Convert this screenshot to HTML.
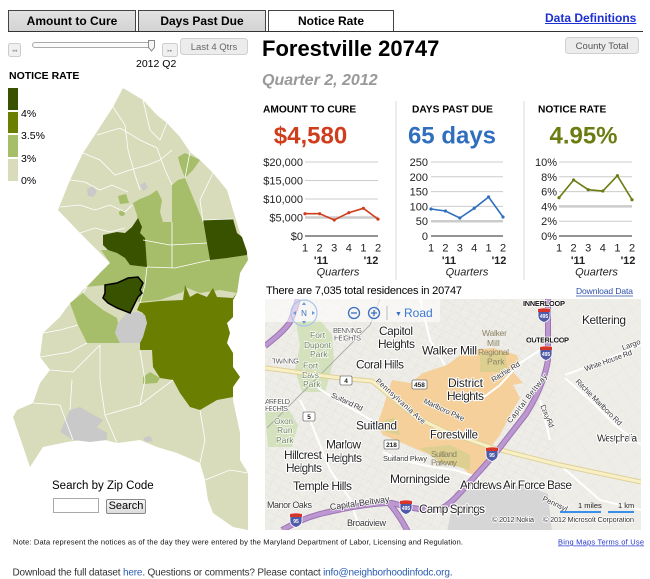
<!DOCTYPE html>
<html><head><meta charset="utf-8">
<style>
*{margin:0;padding:0;box-sizing:border-box}
body{width:650px;height:579px;position:relative;overflow:hidden;background:#fff;font-family:"Liberation Sans",Arial,sans-serif;color:#000}
.tab{position:absolute;top:10px;height:22px;border:1px solid #444;font-weight:bold;font-size:12px;text-align:center;line-height:20px;background:linear-gradient(#e2e2e2,#d3d3d3)}
svg{position:absolute;left:0;top:0}
svg text{font-family:"Liberation Sans",Arial,sans-serif}
.ml{fill:#222;stroke:#fff;stroke-width:2.2px;paint-order:stroke;stroke-linejoin:round;font-size:12px}
.ms{fill:#555;stroke:#fff;stroke-width:1.6px;paint-order:stroke;stroke-linejoin:round;font-size:7.5px}
.mp{fill:#6a7f5a;stroke:#fff;stroke-width:1.4px;paint-order:stroke;font-size:8.5px}
.mr{fill:#333;stroke:#fff;stroke-width:1.5px;paint-order:stroke;font-size:7.5px}
</style></head><body>
<div class="tab" style="left:8px;width:128px">Amount to Cure</div>
<div class="tab" style="left:138px;width:128px">Days Past Due</div>
<div class="tab" style="left:268px;width:126px;background:#fff">Notice Rate</div>
<div style="position:absolute;left:8px;top:31px;width:635px;height:1px;background:#333"></div>
<div style="position:absolute;left:545px;top:11px;font-size:12px;font-weight:bold;color:#1c2fd1;text-decoration:underline">Data Definitions</div>
<div style="position:absolute;left:53px;top:498px;width:46px;height:15px;border:1px solid #aaa;background:#fff"></div>
<div style="position:absolute;left:106px;top:499px;width:40px;height:15px;border:1px solid #888;border-radius:2px;background:linear-gradient(#f6f6f6,#dcdcdc);font-size:11px;text-align:center;line-height:13px">Search</div>

<svg width="650" height="579" viewBox="0 0 650 579">
<defs>
<clipPath id="mc"><rect x="265" y="299" width="376" height="231"/></clipPath>
<pattern id="st" width="9" height="7" patternUnits="userSpaceOnUse" patternTransform="rotate(25)"><path d="M0 0H9M0 0V7" stroke="#dedcd5" stroke-width="0.5" fill="none"/></pattern>
<pattern id="st2" width="13" height="11" patternUnits="userSpaceOnUse" patternTransform="rotate(-35)"><path d="M0 0H13M0 0V11" stroke="#e0ded7" stroke-width="0.5" fill="none"/></pattern>
<g id="i495"><path d="M-6,-6 Q0,-7.5 6,-6 L6,1 Q6,5.5 0,7.5 Q-6,5.5 -6,1Z" fill="#4f5ba6" stroke="#fff" stroke-width="0.8"/><path d="M-6,-6 Q0,-7.5 6,-6 L6,-3 L-6,-3Z" fill="#d8352a"/></g>
</defs>

<!-- slider row -->
<rect x="8.5" y="43.5" width="12" height="13" rx="2" fill="#f0f0f0" stroke="#ccc"/>
<text x="14.5" y="52" font-size="5" fill="#999" text-anchor="middle">◂◂</text>
<rect x="32.5" y="42.5" width="120" height="5" rx="2.5" fill="#fafafa" stroke="#aaa"/>
<path d="M148.5,40.5 h6 v7 l-3,3.5 l-3,-3.5z" fill="#f7f7f7" stroke="#888"/>
<rect x="162.5" y="43.5" width="15" height="13" rx="2" fill="#f0f0f0" stroke="#ccc"/>
<text x="170" y="52" font-size="5" fill="#999" text-anchor="middle">▸▸</text>
<rect x="180.5" y="38.5" width="67" height="16" rx="3" fill="#ececec" stroke="#d0d0d0"/>
<text x="214" y="50" font-size="9.5" fill="#666" text-anchor="middle">Last 4 Qtrs</text>
<text x="136" y="67" font-size="10.5">2012 Q2</text>
<text x="9" y="79" font-size="10.5" font-weight="bold">NOTICE RATE</text>

<!-- legend -->
<rect x="8" y="88" width="10" height="22" fill="#395200"/>
<rect x="8" y="112" width="10" height="21" fill="#6a7f02"/>
<rect x="8" y="135" width="10" height="22" fill="#a6bd69"/>
<rect x="8" y="159" width="10" height="22" fill="#d8dcbb"/>
<text x="21" y="117" font-size="10.5">4%</text>
<text x="21" y="139" font-size="10.5">3.5%</text>
<text x="21" y="162" font-size="10.5">3%</text>
<text x="21" y="184" font-size="10.5">0%</text>

<!-- county map -->
<path d="M123,88 L143,100 L157,115 L167,123 L180,137 L190,152 L200,160 L213,173 L227,190 L233,210 L237,223 L240,233 L247,250 L248,260 L240,273 L237,293 L233,300 L233,317 L227,323 L230,333 L227,343 L233,353 L233,367 L240,377 L233,387 L233,400 L240,433 L240,460 L248,473 L248,530 L233,527 L213,513 L208,500 L205,480 L200,463 L177,453 L157,447 L140,440 L117,443 L97,438 L67,442 L43,447 L30,467 L13,417 L17,410 L33,403 L40,383 L50,370 L40,357 L43,333 L60,317 L67,307 L83,290 L100,273 L110,263 L100,253 L80,233 L58,210 L70,180 L83,153 L100,127 L113,107 Z" fill="#d8dcbb"/>
<path d="M133,203 L140,199 L150,195 L157,190 L162,200 L160,212 L163,222 L172,222 L172,185 L178,180 L185,178 L190,190 L197,207 L203,222 L207,243 L210,260 L227,258 L247,255 L248,260 L240,273 L237,293 L220,290 L200,293 L185,287 L183,292 L160,300 L138,302 L140,287 L143,285 L145,265 L143,240 L140,233 L138,223 L137,215 Z" fill="#a6bd69"/>
<path d="M101,250 L108,250 L117,253 L125,258 L130,265 L147,267 L145,285 L140,287 L128,278 L117,283 L105,285 L95,286 L87,287 L100,273 L110,263 Z" fill="#a6bd69"/>
<path d="M178,157 L185,153 L200,160 L193,170 L185,178 L180,165 Z" fill="#a6bd69"/>
<path d="M70,303 L83,293 L90,300 L103,310 L117,318 L118,323 L115,333 L120,343 L87,343 L78,325 Z" fill="#a6bd69"/>
<path d="M143,377 L150,372 L160,378 L157,383 L143,384 Z" fill="#a6bd69"/>
<path d="M118,196 L126,194 L129,203 L120,204 Z" fill="#a6bd69"/>
<circle cx="122" cy="213" r="3" fill="#a6bd69"/>
<path d="M135,231 L141,229 L143,236 L136,238 Z" fill="#a6bd69"/>
<path d="M140,303 L160,301 L183,300 L185,285 L190,297 L197,293 L207,297 L213,288 L217,297 L233,298 L237,293 L233,300 L233,317 L227,323 L230,333 L227,343 L233,353 L233,367 L240,377 L233,387 L233,397 L217,400 L200,410 L190,407 L180,393 L173,380 L160,378 L153,367 L152,350 L140,350 L140,337 L147,323 L143,313 L137,310 Z" fill="#6a7f02"/>
<path d="M103,235 L112,233 L117,232 L125,233 L132,227 L138,218 L142,227 L140,233 L145,238 L147,267 L130,265 L125,258 L117,253 L108,250 L103,245 Z" fill="#395200"/>
<path d="M203,220 L233,219 L237,233 L242,237 L247,252 L247,255 L227,258 L210,260 L207,243 Z" fill="#395200"/>
<path d="M118,323 L127,313 L137,312 L145,315 L147,323 L143,337 L140,343 L120,343 L115,333 Z" fill="#c9c9c9"/>
<path d="M60,432 L70,410 L80,407 L90,413 L103,420 L97,427 L107,433 L107,440 L90,442 L73,440 Z" fill="#c9c9c9"/>
<path d="M143,438 L150,436 L153,441 L146,442 Z" fill="#c9c9c9"/>
<path d="M87,189 L93,186 L97,192 L93,197 L88,196 Z" fill="#c9c9c9"/>
<path d="M140,185 L145,182 L148,188 L143,191 Z" fill="#c9c9c9"/>
<g fill="none" stroke="#fff" stroke-width="0.8">
<path d="M97,135 L120,128 L140,140 L157,148"/>
<path d="M113,107 L125,125 L128,150 L135,175 L140,190"/>
<path d="M83,153 L100,160 L115,175 L130,170 L148,165 L160,160 L172,150"/>
<path d="M70,180 L85,182 L100,190 L112,185 L128,192"/>
<path d="M60,207 L80,205 L95,210 L110,205 L125,212 L132,205"/>
<path d="M80,233 L95,228 L110,232 L125,228"/>
<path d="M143,100 L150,130 L160,140 L167,123"/>
<path d="M157,148 L165,170 L172,185"/>
<path d="M190,152 L185,178"/>
<path d="M213,173 L200,200 L203,222"/>
<path d="M143,240 L170,245 L207,243"/>
<path d="M147,267 L175,268 L210,260"/>
<path d="M172,222 L172,268"/>
<path d="M147,267 L145,285 L140,303"/>
<path d="M43,333 L60,330 L78,325"/>
<path d="M40,357 L70,352 L87,343"/>
<path d="M50,370 L73,372 L100,345"/>
<path d="M72,380 L70,410"/>
<path d="M33,403 L60,405 L73,440"/>
<path d="M100,345 L100,380 L105,415 L117,443"/>
<path d="M105,415 L140,405 L173,380"/>
<path d="M200,410 L205,440 L200,463"/>
<path d="M205,480 L230,470 L248,473"/>
<path d="M140,350 L145,380 L140,405"/>
<path d="M203,220 L233,219"/>
<path d="M83,293 L87,287"/>
</g>
<path d="M105,285 L117,283 L128,278 L138,277 L143,283 L140,290 L142,293 L138,297 L135,303 L130,313 L117,308 L108,303 L103,298 L105,293 Z" fill="#395200" stroke="#000" stroke-width="1.5"/>

<text x="52" y="489" font-size="11.5">Search by Zip Code</text>

<!-- title -->
<text x="262" y="56" font-size="22" font-weight="bold">Forestville 20747</text>
<text x="262" y="85" font-size="16" font-weight="bold" font-style="italic" fill="#999">Quarter 2, 2012</text>
<rect x="565.5" y="37.5" width="73" height="16" rx="3" fill="#ececec" stroke="#d0d0d0"/>
<text x="602" y="49" font-size="9.5" fill="#555" text-anchor="middle">County Total</text>

<!-- headers -->
<text x="263" y="112.3" font-size="10.2" font-weight="bold">AMOUNT TO CURE</text>
<text x="412" y="112.3" font-size="10.2" font-weight="bold">DAYS PAST DUE</text>
<text x="538" y="112.3" font-size="10.2" font-weight="bold">NOTICE RATE</text>
<text x="310.5" y="143.5" font-size="24" font-weight="bold" fill="#cf3d1d" text-anchor="middle">$4,580</text>
<text x="452" y="143.5" font-size="24" font-weight="bold" fill="#2f6fbe" text-anchor="middle">65 days</text>
<text x="583.5" y="143.5" font-size="24" font-weight="bold" fill="#6b7d11" text-anchor="middle">4.95%</text>
<line x1="396" y1="101" x2="396" y2="280" stroke="#d8d8d8"/>
<line x1="524" y1="101" x2="524" y2="280" stroke="#d8d8d8"/>

<!-- charts -->
<g stroke="#ccc" stroke-width="1">
<line x1="305" y1="162" x2="378" y2="162"/><line x1="305" y1="180.5" x2="378" y2="180.5"/><line x1="305" y1="199" x2="378" y2="199"/>
<line x1="305" y1="217.5" x2="378" y2="217.5" stroke-width="2.5"/>
<line x1="431" y1="162" x2="503" y2="162"/><line x1="431" y1="176.8" x2="503" y2="176.8"/><line x1="431" y1="191.6" x2="503" y2="191.6"/><line x1="431" y1="206.4" x2="503" y2="206.4"/>
<line x1="431" y1="221.2" x2="503" y2="221.2" stroke-width="2.5"/>
<line x1="559" y1="162" x2="632" y2="162"/><line x1="559" y1="176.8" x2="632" y2="176.8"/><line x1="559" y1="191.6" x2="632" y2="191.6"/>
<line x1="559" y1="206.4" x2="632" y2="206.4" stroke-width="2.5"/>
<line x1="559" y1="221.2" x2="632" y2="221.2"/>
</g>
<g stroke="#555" stroke-width="1.2">
<line x1="305" y1="236" x2="378" y2="236"/><line x1="431" y1="236" x2="503" y2="236"/><line x1="559" y1="236" x2="632" y2="236"/>
</g>
<g font-size="11" text-anchor="end" fill="#222">
<text x="303" y="166">$20,000</text><text x="303" y="184.5">$15,000</text><text x="303" y="203">$10,000</text><text x="303" y="221.5">$5,000</text><text x="303" y="240">$0</text>
<text x="428" y="166">250</text><text x="428" y="180.8">200</text><text x="428" y="195.6">150</text><text x="428" y="210.4">100</text><text x="428" y="225.2">50</text><text x="428" y="240">0</text>
<text x="557" y="166">10%</text><text x="557" y="180.8">8%</text><text x="557" y="195.6">6%</text><text x="557" y="210.4">4%</text><text x="557" y="225.2">2%</text><text x="557" y="240">0%</text>
</g>
<g font-size="11" text-anchor="middle" fill="#222">
<text x="305" y="251.5">1</text><text x="319.6" y="251.5">2</text><text x="334.2" y="251.5">3</text><text x="348.8" y="251.5">4</text><text x="363.4" y="251.5">1</text><text x="378" y="251.5">2</text>
<text x="431" y="251.5">1</text><text x="445.4" y="251.5">2</text><text x="459.8" y="251.5">3</text><text x="474.2" y="251.5">4</text><text x="488.6" y="251.5">1</text><text x="503" y="251.5">2</text>
<text x="559" y="251.5">1</text><text x="573.6" y="251.5">2</text><text x="588.2" y="251.5">3</text><text x="602.8" y="251.5">4</text><text x="617.4" y="251.5">1</text><text x="632" y="251.5">2</text>
<g font-weight="bold"><text x="321" y="264">'11</text><text x="371" y="264">'12</text><text x="449" y="264">'11</text><text x="499" y="264">'12</text><text x="578" y="264">'11</text><text x="628" y="264">'12</text></g>
<g font-style="italic"><text x="338" y="275.5">Quarters</text><text x="467" y="275.5">Quarters</text><text x="596.5" y="275.5">Quarters</text></g>
</g>
<polyline points="305,213.7 319.6,213.7 334.2,220 348.8,212.7 363.4,208.3 378,219.1" fill="none" stroke="#cf3d1d" stroke-width="1.6"/>
<g fill="#cf3d1d"><circle cx="305" cy="213.7" r="1.6"/><circle cx="319.6" cy="213.7" r="1.6"/><circle cx="334.2" cy="220" r="1.6"/><circle cx="348.8" cy="212.7" r="1.6"/><circle cx="363.4" cy="208.3" r="1.6"/><circle cx="378" cy="219.1" r="1.6"/></g>
<polyline points="431,209 445.4,211 459.8,218 474.2,208.3 488.6,197 503,217" fill="none" stroke="#2f6fbe" stroke-width="1.6"/>
<g fill="#2f6fbe"><circle cx="431" cy="209" r="1.6"/><circle cx="445.4" cy="211" r="1.6"/><circle cx="459.8" cy="218" r="1.6"/><circle cx="474.2" cy="208.3" r="1.6"/><circle cx="488.6" cy="197" r="1.6"/><circle cx="503" cy="217" r="1.6"/></g>
<polyline points="559,197.7 573.6,180 588.2,189.7 602.8,191 617.4,175.7 632,199.7" fill="none" stroke="#6b7d11" stroke-width="1.6"/>
<g fill="#6b7d11"><circle cx="559" cy="197.7" r="1.6"/><circle cx="573.6" cy="180" r="1.6"/><circle cx="588.2" cy="189.7" r="1.6"/><circle cx="602.8" cy="191" r="1.6"/><circle cx="617.4" cy="175.7" r="1.6"/><circle cx="632" cy="199.7" r="1.6"/></g>

<text x="266" y="294" font-size="11" textLength="196">There are 7,035 total residences in 20747</text>
<text x="576" y="294" font-size="8.5" fill="#2a4ea8" textLength="57">Download Data</text>
<line x1="576" y1="296" x2="633" y2="296" stroke="#2a4ea8" stroke-width="0.8"/>

<!-- Bing map -->
<g clip-path="url(#mc)">
<rect x="265" y="299" width="376" height="231" fill="#efede8"/>
<rect x="265" y="299" width="290" height="231" fill="url(#st)"/>
<rect x="265" y="299" width="376" height="231" fill="url(#st2)" opacity="0.8"/>
<path d="M296,322 L320,320 L332,335 L334,360 L325,392 L302,392 L295,370 L300,345Z" fill="#d3e1bc"/>
<path d="M265,412 L288,408 L298,425 L292,447 L268,447Z" fill="#d3e1bc"/>
<path d="M392,380 L410,383 L423,373 L447,365 L467,350 L493,348 L517,355 L520,365 L513,372 L523,383 L513,385 L520,398 L510,415 L500,435 L490,448 L483,468 L473,478 L460,465 L443,458 L423,452 L400,442 L383,435 L377,425 L383,408 L387,395Z" fill="#f5d09b"/>
<path d="M480,353 L505,352 L508,372 L480,372Z" fill="#dccf90"/>
<path d="M420,448 L450,445 L470,455 L470,470 L440,462Z" fill="#dccf90"/>
<path d="M383,420 L395,418 L400,435 L385,432Z" fill="#dccf90"/>
<path d="M455,492 L475,486 L528,486 L548,494 L552,532 L447,532Z" fill="#d6d6d6"/>
<path d="M267,428 L370,325 L380,299" fill="none" stroke="#aaa" stroke-width="0.9"/>
<g fill="none" stroke="#fff" stroke-width="2">
<path d="M300,400 L310,420 L318,440 L330,470 L350,499 L360,530"/>
<path d="M318,388 L345,405 L380,425"/>
<path d="M480,400 L500,385 L520,363 L540,350"/>
<path d="M540,400 L545,420 L550,440"/>
<path d="M565,375 L600,362 L641,345"/>
<path d="M565,378 L590,400 L615,425 L641,445"/>
<path d="M383,452 C400,460 420,466 455,470 L480,478"/>
<path d="M560,465 L600,500 L641,510"/>
<path d="M420,299 L430,340 L445,365"/>
</g>
<path d="M265,368 C300,372 330,378 372,381 L417,418 L447,432 L493,448 L520,455 L560,465 L641,482" fill="none" stroke="#ddd09a" stroke-width="5"/>
<path d="M265,368 C300,372 330,378 372,381 L417,418 L447,432 L493,448 L520,455 L560,465 L641,482" fill="none" stroke="#f8f0c4" stroke-width="3"/>
<g fill="none" stroke="#9b74b5" stroke-width="6">
<path d="M548,299 L548,360 C545,378 538,395 526,414 L505,441 C495,455 485,465 470,482 C458,495 450,505 440,509 C425,511 410,508 392,503 C370,503 345,508 320,514 C305,518 295,523 282,530"/>
<path d="M388,502 C395,510 402,520 408,532"/>
<path d="M265,346 C275,338 285,330 290,322 C293,315 296,306 298,299"/>
</g>
<g fill="none" stroke="#bd98d0" stroke-width="4">
<path d="M548,299 L548,360 C545,378 538,395 526,414 L505,441 C495,455 485,465 470,482 C458,495 450,505 440,509 C425,511 410,508 392,503 C370,503 345,508 320,514 C305,518 295,523 282,530"/>
<path d="M388,502 C395,510 402,520 408,532"/>
<path d="M265,346 C275,338 285,330 290,322 C293,315 296,306 298,299"/>
</g>
<rect x="265" y="299" width="175" height="23" fill="#fff" opacity="0.55"/>
<circle cx="304" cy="313" r="13" fill="none" stroke="#a9c6ea" stroke-width="1.2"/>
<text x="304" y="316" font-size="8" fill="#3a70c0" text-anchor="middle">N</text>
<path d="M304,302 l-2,3 h4z M304,324 l-2,-3 h4z M293,313 l3,-2 v4z M315,313 l-3,-2 v4z" fill="#6a98d8"/>
<circle cx="354" cy="313" r="5.5" fill="none" stroke="#3a70c0" stroke-width="1.3"/>
<line x1="351" y1="313" x2="357" y2="313" stroke="#3a70c0" stroke-width="1.3"/>
<circle cx="374" cy="313" r="5.5" fill="none" stroke="#3a70c0" stroke-width="1.3"/>
<path d="M371,313 h6 M374,310 v6" stroke="#3a70c0" stroke-width="1.3"/>
<line x1="387" y1="306" x2="387" y2="320" stroke="#bbb"/>
<text x="395" y="316" font-size="7" fill="#3a70c0">▼</text>
<text x="404" y="317" font-size="12" fill="#3a7ad0">Road</text>
<use href="#i495" x="544" y="315"/><text x="544" y="318" font-size="5" fill="#fff" text-anchor="middle" font-weight="bold">495</text>
<use href="#i495" x="546" y="353"/><text x="546" y="356" font-size="5" fill="#fff" text-anchor="middle" font-weight="bold">495</text>
<use href="#i495" x="406" y="507"/><text x="406" y="510" font-size="5" fill="#fff" text-anchor="middle" font-weight="bold">495</text>
<use href="#i495" x="492" y="454"/><text x="492" y="457" font-size="5" fill="#fff" text-anchor="middle" font-weight="bold">95</text>
<use href="#i495" x="296" y="520"/><text x="296" y="523" font-size="5" fill="#fff" text-anchor="middle" font-weight="bold">95</text>
<g font-size="6.5" font-weight="bold" text-anchor="middle" fill="#222">
<rect x="340" y="376" width="12" height="9" rx="1.5" fill="#fff" stroke="#777" stroke-width="0.8"/><text x="346" y="383">4</text>
<rect x="303" y="412" width="12" height="9" rx="1.5" fill="#fff" stroke="#777" stroke-width="0.8"/><text x="309" y="419">5</text>
<rect x="412" y="380" width="15" height="9" rx="1.5" fill="#fff" stroke="#777" stroke-width="0.8"/><text x="419.5" y="387">458</text>
<rect x="384" y="440" width="15" height="9" rx="1.5" fill="#fff" stroke="#777" stroke-width="0.8"/><text x="391.5" y="447">218</text>
</g>
<text class="ml" x="379" y="335" textLength="34">Capitol</text>
<text class="ml" x="378" y="348" textLength="37">Heights</text>
<text class="ml" x="422" y="354.5" textLength="55">Walker Mill</text>
<text class="ml" x="356" y="368.5" textLength="48">Coral Hills</text>
<text class="ml" x="448" y="387" textLength="35" fill="#333">District</text>
<text class="ml" x="447" y="400" textLength="37">Heights</text>
<text class="ml" x="356" y="429.5" textLength="41">Suitland</text>
<text class="ml" x="430" y="438.5" textLength="48" style="font-size:11.5px">Forestville</text>
<text class="ml" x="326" y="448.5" textLength="35">Marlow</text>
<text class="ml" x="326" y="462" textLength="36">Heights</text>
<text class="ml" x="284" y="459" textLength="38">Hillcrest</text>
<text class="ml" x="286" y="472" textLength="36">Heights</text>
<text class="ml" x="293" y="490" textLength="59">Temple Hills</text>
<text class="ml" x="390" y="483" textLength="60">Morningside</text>
<text class="ml" x="460" y="489" textLength="112">Andrews Air Force Base</text>
<text class="ml" x="419" y="513" textLength="66">Camp Springs</text>
<text class="ml" x="582" y="324" textLength="44">Kettering</text>
<text class="ml" x="597" y="441.5" textLength="40" style="font-size:10px">Westphalia</text>
<text class="ms" x="333" y="333" textLength="29">BENNING</text>
<text class="ms" x="334" y="340.5" textLength="27">HEIGHTS</text>
<text class="ms" x="272" y="363.5" textLength="27">TWINING</text>
<text class="ms" x="265" y="404" textLength="25">ARFIELD</text>
<text class="ms" x="265" y="411" textLength="23">HEIGHTS</text>
<text class="mp" x="310" y="338">Fort</text>
<text class="mp" x="304" y="348" textLength="27">Dupont</text>
<text class="mp" x="310" y="357">Park</text>
<text class="mp" x="303" y="368.5">Fort</text>
<text class="mp" x="302" y="378" textLength="17">Davis</text>
<text class="mp" x="303" y="387">Park</text>
<text class="mp" x="274" y="424" textLength="19">Oxon</text>
<text class="mp" x="277" y="433">Run</text>
<text class="mp" x="276" y="443">Park</text>
<g fill="#8a8466" font-size="8.5">
<text x="482" y="336" textLength="25">Walker</text>
<text x="487" y="346">Mill</text>
<text x="478" y="355" textLength="31">Regional</text>
<text x="487" y="364.5">Park</text>
<text x="431" y="457" textLength="26">Suitland</text>
<text x="431" y="465.5" textLength="26">Parkway</text>
</g>
<text x="523" y="306" font-size="7.5" font-weight="bold" fill="#111" stroke="#fff" stroke-width="1.5" paint-order="stroke" textLength="42">INNERLOOP</text>
<text x="526" y="342.5" font-size="7.5" font-weight="bold" fill="#111" stroke="#fff" stroke-width="1.5" paint-order="stroke" textLength="43">OUTERLOOP</text>
<text class="mr" x="383" y="461" textLength="44">Suitland Pkwy</text>
<text class="mr" x="267" y="508" textLength="45" style="font-size:9px">Manor Oaks</text>
<text class="mr" x="347" y="526" textLength="39" style="font-size:9px">Broadview</text>
<text class="mr" transform="translate(399,403) rotate(42)" text-anchor="middle" textLength="64">Pennsylvania Ave</text>
<text class="mr" transform="translate(443,412) rotate(25)" text-anchor="middle" textLength="44">Marlboro Pike</text>
<text class="mr" transform="translate(346,404) rotate(25)" text-anchor="middle" textLength="34">Suitland Rd</text>
<text class="mr" transform="translate(507,374) rotate(-32)" text-anchor="middle" textLength="32">Ritchie Rd</text>
<text class="mr" transform="translate(529,400) rotate(-52)" text-anchor="middle" textLength="60">Capital Beltway</text>
<text class="mr" transform="translate(545,417) rotate(67)" text-anchor="middle" textLength="24">Darcy Rd</text>
<text class="mr" transform="translate(609,363) rotate(-20)" text-anchor="middle" textLength="50">White House Rd</text>
<text class="mr" transform="translate(597,404) rotate(45)" text-anchor="middle" textLength="62">Ritchie Marlboro Rd</text>
<text class="mr" transform="translate(632,347) rotate(-20)" text-anchor="middle">Largo</text>
<text class="mr" transform="translate(360,506) rotate(-8)" text-anchor="middle" textLength="60" style="font-size:9px">Capital Beltway</text>
<text class="mr" transform="translate(554,506) rotate(25)" text-anchor="middle">Pennsyl</text>
<text x="578" y="508" font-size="7.5" fill="#222">1 miles</text>
<text x="618" y="508" font-size="7.5" fill="#222">1 km</text>
<line x1="560" y1="512" x2="601" y2="512" stroke="#3b8fe8" stroke-width="2"/>
<line x1="608" y1="512" x2="634" y2="512" stroke="#3b8fe8" stroke-width="2"/>
<text x="492" y="522" font-size="7.5" fill="#333" stroke="#fff" stroke-width="1.5" paint-order="stroke" textLength="42">© 2012 Nokia</text>
<text x="543" y="522" font-size="7.5" fill="#333" stroke="#fff" stroke-width="1.5" paint-order="stroke" textLength="91">© 2012 Microsoft Corporation</text>
</g>

<!-- footer -->
<text x="13" y="544.5" font-size="7.5" fill="#111" textLength="450">Note: Data represent the notices as of the day they were entered by the Maryland Department of Labor, Licensing and Regulation.</text>
<text x="558" y="544.5" font-size="7.5" fill="#2233cc" text-decoration="underline" textLength="86">Bing Maps Terms of Use</text>
<text x="12.5" y="575.5" font-size="10" fill="#333" textLength="440">Download the full dataset <tspan fill="#2a5db0">here</tspan>. Questions or comments? Please contact <tspan fill="#2a5db0">info@neighborhoodinfodc.org</tspan>.</text>
</svg>
</body></html>
